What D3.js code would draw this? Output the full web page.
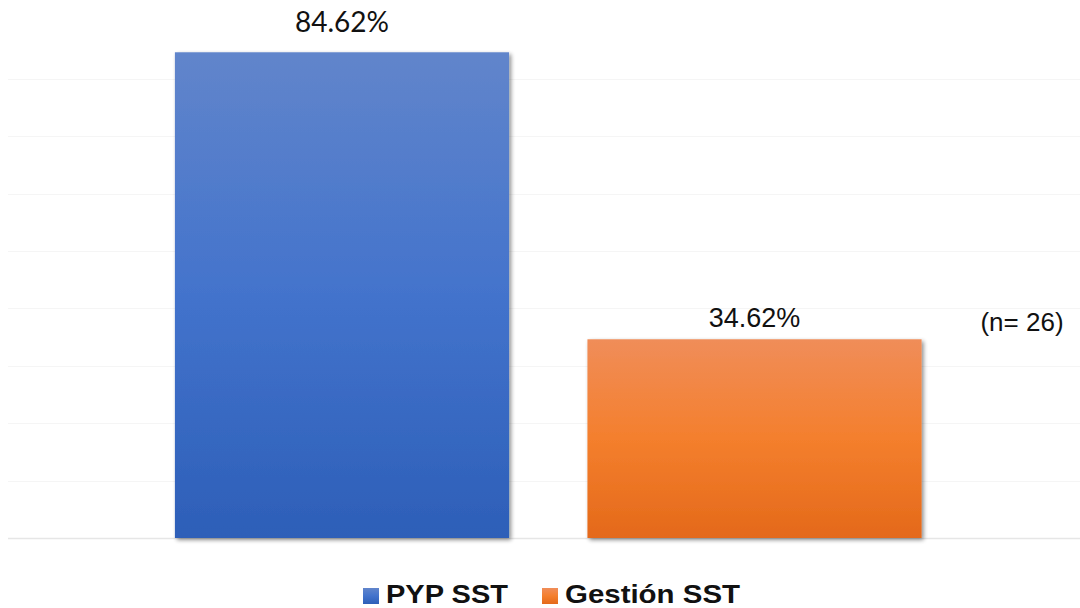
<!DOCTYPE html>
<html>
<head>
<meta charset="utf-8">
<script src="https://cdn.jsdelivr.net/npm/d3@7/dist/d3.min.js"></script>
<style>
  html, body { margin: 0; padding: 0; background: #ffffff; }
  svg { display: block; }
</style>
</head>
<body>
<svg id="chart" width="1080" height="608"></svg>
<script>
// ---- data ----
const categories = ["PYP SST", "Gestión SST"];
const values = [84.62, 34.62];
const valueLabels = ["84.62%", "34.62%"];
const gridTicks = [10, 20, 30, 40, 50, 60, 70, 80];
const noteText = "(n= 26)";

// ---- styles ----
const gradStops = [
  [["0%", "#6185cb"], ["50%", "#4373cc"], ["100%", "#2d5fb8"]],
  [["0%", "#f08d59"], ["50%", "#f47f2d"], ["100%", "#e4691a"]]
];
const labelFonts = ["Lato, 'Open Sans', sans-serif", "'Liberation Sans', Arial, sans-serif"];
const labelSizes = [28, 27];
const labelGaps = [20, 12];

const svg = d3.select("#chart");

const x = d3.scaleBand()
  .domain(categories)
  .range([8, 1088.5])
  .paddingInner(0.19)
  .paddingOuter(0.4046);

const y = d3.scaleLinear()
  .domain([0, 90])
  .range([538, 21.4]);

const defs = svg.append("defs");
gradStops.forEach((stops, i) => {
  const g = defs.append("linearGradient")
    .attr("id", "grad" + i)
    .attr("x1", 0).attr("y1", 0).attr("x2", 0).attr("y2", 1);
  stops.forEach(s => g.append("stop").attr("offset", s[0]).attr("stop-color", s[1]));
});
const f = defs.append("filter").attr("id", "shadow")
  .attr("x", "-5%").attr("y", "-5%").attr("width", "115%").attr("height", "115%");
f.append("feGaussianBlur").attr("in", "SourceAlpha").attr("stdDeviation", 2.2).attr("result", "b");
f.append("feOffset").attr("in", "b").attr("dx", 1.5).attr("dy", 1.5).attr("result", "o");
f.append("feComponentTransfer").attr("in", "o").attr("result", "o2")
  .append("feFuncA").attr("type", "linear").attr("slope", 0.45);
const m = f.append("feMerge");
m.append("feMergeNode").attr("in", "o2");
m.append("feMergeNode").attr("in", "SourceGraphic");

// gridlines
svg.append("g").selectAll("line.grid")
  .data(gridTicks)
  .join("line")
  .attr("x1", 8).attr("x2", 1080)
  .attr("y1", d => Math.round(y(d)) + 0.5)
  .attr("y2", d => Math.round(y(d)) + 0.5)
  .attr("stroke", "#f5f5f5")
  .attr("stroke-width", 1);

// baseline
svg.append("line")
  .attr("x1", 8).attr("x2", 1080)
  .attr("y1", y(0) + 0.5).attr("y2", y(0) + 0.5)
  .attr("stroke", "#e6e6e6")
  .attr("stroke-width", 1.5);

// bars
svg.append("g").selectAll("rect.bar")
  .data(values)
  .join("rect")
  .attr("x", (d, i) => x(categories[i]))
  .attr("y", d => y(d))
  .attr("width", x.bandwidth())
  .attr("height", d => y(0) - y(d))
  .attr("fill", (d, i) => "url(#grad" + i + ")")
  .attr("filter", "url(#shadow)");

// value labels
svg.append("g").selectAll("text.val")
  .data(values)
  .join("text")
  .attr("x", (d, i) => x(categories[i]) + x.bandwidth() / 2)
  .attr("y", (d, i) => y(d) - labelGaps[i])
  .attr("text-anchor", "middle")
  .attr("font-family", (d, i) => labelFonts[i])
  .attr("font-size", (d, i) => labelSizes[i])
  .attr("fill", "#111")
  .text((d, i) => valueLabels[i]);

// note
svg.append("text")
  .attr("x", 1022).attr("y", 331)
  .attr("text-anchor", "middle")
  .attr("font-family", "'Liberation Sans', Arial, sans-serif")
  .attr("font-size", 26)
  .attr("fill", "#111")
  .text(noteText);

// legend
const legend = svg.append("g");
const legendX = [363, 542];
const legendTextLen = [122, 175];
categories.forEach((c, i) => {
  legend.append("rect")
    .attr("x", legendX[i]).attr("y", 588)
    .attr("width", 16).attr("height", 16)
    .attr("fill", "url(#grad" + i + ")");
  legend.append("text")
    .attr("x", legendX[i] + 23).attr("y", 602.5)
    .attr("font-family", "'Liberation Sans', Arial, sans-serif")
    .attr("font-weight", "bold")
    .attr("font-size", 25)
    .attr("textLength", legendTextLen[i])
    .attr("lengthAdjust", "spacingAndGlyphs")
    .attr("fill", "#111")
    .text(c);
});
</script>
</body>
</html>
